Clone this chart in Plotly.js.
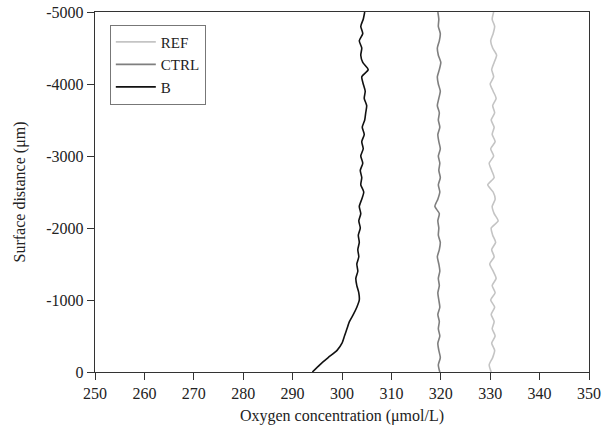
<!DOCTYPE html>
<html>
<head>
<meta charset="utf-8">
<script src="https://cdn.plot.ly/plotly-3.0.1.min.js"></script>
<style>html,body{margin:0;padding:0;background:#fff;}#chart{width:606px;height:432px;}</style>
</head>
<body>
<div id="chart"></div>
<script>
// Depth (surface distance, µm), every 100 µm from 0 to -5000
const depth = [0,-100,-200,-300,-400,-500,-600,-700,-800,-900,-1000,-1100,-1200,-1300,-1400,-1500,-1600,-1700,-1800,-1900,-2000,-2100,-2200,-2300,-2400,-2500,-2600,-2700,-2800,-2900,-3000,-3100,-3200,-3300,-3400,-3500,-3600,-3700,-3800,-3900,-4000,-4100,-4200,-4300,-4400,-4500,-4600,-4700,-4800,-4900,-5000];

const refValues = [330.2,329.8,330.5,330.9,330.3,331.0,330.4,330.8,330.2,330.9,330.1,331.0,330.4,331.2,330.6,329.9,330.8,330.3,331.1,330.5,330.2,331.6,330.8,330.4,331.0,330.6,329.5,330.8,330.3,329.8,330.7,330.1,331.0,330.4,330.8,330.2,330.9,330.5,331.2,330.6,330.0,330.7,330.3,330.8,331.3,330.5,330.1,330.6,330.9,330.4,330.7];

const ctrlValues = [319.8,319.5,319.9,319.6,319.4,319.8,319.5,319.7,319.4,319.8,319.6,319.4,319.7,319.5,319.8,319.6,319.3,319.7,319.9,319.5,319.6,319.4,319.7,318.8,319.4,319.8,319.5,319.9,319.6,319.8,319.5,319.9,319.6,319.4,319.8,319.5,319.7,319.3,319.6,319.9,319.5,319.3,319.7,320.0,319.5,319.3,319.7,319.9,319.5,319.6,319.4];

const bValues = [294.0,295.5,297.2,299.0,300.0,300.5,301.0,301.5,302.3,303.0,303.5,303.4,303.0,302.8,303.2,303.0,303.4,303.2,303.5,303.3,303.7,303.4,303.8,303.5,304.0,304.4,303.8,304.0,303.7,304.2,303.8,304.3,304.0,304.5,304.1,304.6,304.8,305.0,304.5,304.7,304.3,304.0,305.3,304.2,303.8,304.0,303.5,304.2,303.8,304.3,304.6];

const seriesNames = ["REF","CTRL","B"];
const xTickVals = [250,260,270,280,290,300,310,320,330,340,350];
const yTickVals = [-5000,-4000,-3000,-2000,-1000,0];
const yTickText = ["-5000","-4000","-3000","-2000","-1000","0"];

const font = "Liberation Serif, Times New Roman, serif";
const traces = [
  {x: refValues, y: depth, name: seriesNames[0], mode: "lines", line: {color: "#c4c4c4", width: 1.6, shape: "spline", smoothing: 0.6}},
  {x: ctrlValues, y: depth, name: seriesNames[1], mode: "lines", line: {color: "#7f7f7f", width: 1.6, shape: "spline", smoothing: 0.6}},
  {x: bValues, y: depth, name: seriesNames[2], mode: "lines", line: {color: "#111111", width: 1.6, shape: "spline", smoothing: 0.6}}
];

const layout = {
  width: 606, height: 432,
  margin: {l: 95, r: 17, t: 12, b: 60},
  paper_bgcolor: "#fff", plot_bgcolor: "#fff",
  font: {family: font, size: 16, color: "#222"},
  showlegend: true,
  legend: {x: 0.03, y: 0.965, xanchor: "left", yanchor: "top", bgcolor: "#fff",
           bordercolor: "#777", borderwidth: 1, font: {family: font, size: 15, color: "#222"},
           tracegroupgap: 0, itemwidth: 40},
  xaxis: {range: [250, 350], tickvals: xTickVals, ticks: "outside", ticklen: 7, tickcolor: "#333",
          showline: true, linecolor: "#333", linewidth: 1.2, mirror: true, showgrid: false, zeroline: false,
          tickfont: {family: font, size: 16, color: "#222"},
          title: {text: "Oxygen concentration (μmol/L)", font: {family: font, size: 16, color: "#222"}, standoff: 8}},
  yaxis: {range: [0, -5000], tickvals: yTickVals, ticktext: yTickText, ticks: "outside", ticklen: 7, tickcolor: "#333",
          showline: true, linecolor: "#333", linewidth: 1.2, mirror: true, showgrid: false, zeroline: false,
          tickfont: {family: font, size: 16, color: "#222"},
          title: {text: "Surface distance (μm)", font: {family: font, size: 16, color: "#222"}, standoff: 16}}
};

Plotly.newPlot("chart", traces, layout, {displayModeBar: false, staticPlot: true});
</script>
</body>
</html>
